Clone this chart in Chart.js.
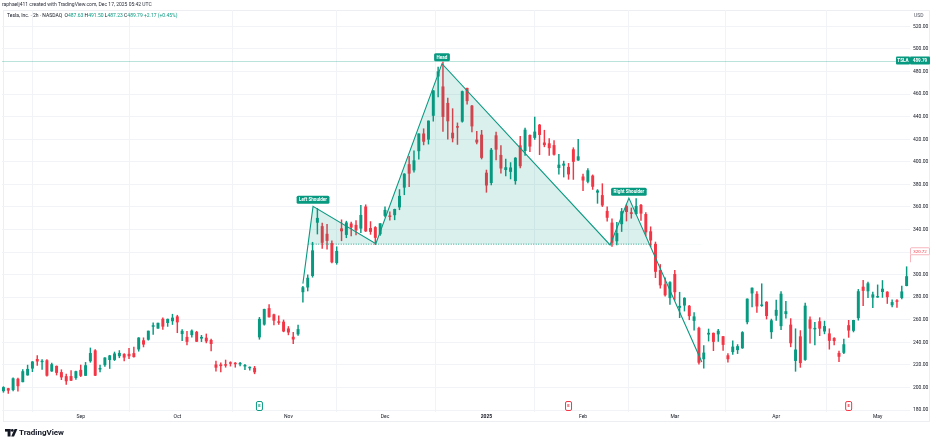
<!DOCTYPE html>
<html>
<head>
<meta charset="utf-8">
<script src="https://cdn.jsdelivr.net/npm/chart.js@4.4.1/dist/chart.umd.min.js"></script>
<style>
  html, body { margin: 0; padding: 0; background: #fff; overflow: hidden; }
  canvas { display: block; }
</style>
</head>
<body>
<canvas id="chart" width="936" height="445"></canvas>
<script>
// Daily candles, first candle = Aug 9 2024, last = May 9 2025
const opens = [
  197, 199, 198, 207.4, 205, 211, 217, 224.9, 222.7, 223.8, 214.5, 218.8, 213.3, 209.7, 209.8, 208.6,
  215.3, 210.6, 223.5, 232.6, 216.2, 220, 224.6, 224.7, 228, 229.3, 229.5, 230.1, 234, 241.5, 242.6, 254.1, 252.5, 260.6, 257.4, 259,
  262.7, 247.6, 244.5, 246.7, 249, 243.6, 243.8, 241.8, 220.1, 220.1, 220, 221.4, 221.6, 220.7, 218.9, 217.3, 217.1, 244.7, 256, 270, 264.5, 258, 258,
  252, 244.6, 247.3, 284.7, 288.9, 299.1, 346.3, 342.7, 335.9, 327.7, 310.6, 340.7, 335.5, 345, 343.8, 341.1, 360.1, 341, 341.8, 336.1,
  352.4, 351.8, 353, 359.9, 377.4, 397.6, 392.7, 409.7, 424.8, 420, 441.1, 475.9, 466.5, 451.9, 425.5, 431, 435.9, 465.2, 449.5, 419.4, 423.8,
  390.1, 381.5, 423.2, 405.8, 393, 391.4, 383.2, 414.3, 409.9, 423.5, 421.5, 432.6, 416.8, 416.1, 414.5, 394.8, 396.9, 395.2, 410.8, 401.5,
  386.7, 382.6, 387.5, 373, 370.2, 356.2, 345.8, 329.9, 345, 360.6, 355, 354, 361.5, 353.4, 338.1, 327, 303.7, 291.2, 279.5,
  300.3, 270.9, 272.9, 272.1, 259.3, 252.5, 225.3, 247.2, 248.1, 247.3, 245.1, 228.2, 231.6, 233.4, 235, 258.1, 283.6, 282.7, 272.5, 275.6, 249.3,
  263.8, 254.6, 265.3, 255.4, 223.8, 245, 224.7, 260, 251.8, 258.4, 249.9, 247.6, 243.5, 230.3, 231, 254.9, 250.5, 261.7, 289, 285.5, 279.9,
  280, 284.9, 284.6, 273.1, 276.9, 279.6, 290.2
];
const highs = [
  200.7, 199.3, 208.5, 208.4, 215.9, 219.8, 223, 228.2, 224.7, 224.8, 221.5, 219.1, 215.7, 211.8, 214.9, 214.6,
  219.9, 222.2, 235, 233.6, 219.9, 226.4, 228.5, 231.4, 232.7, 230, 234.6, 235.7, 244.2, 244, 250, 257.2, 257.1, 261.8, 260.7, 264.9,
  264, 251.2, 249.8, 251, 249.8, 246.2, 247.4, 242.8, 223.3, 221.9, 224.3, 222.8, 222.1, 222.3, 220.5, 218.2, 218.7, 262.1, 269.5, 273.5, 265, 263.4, 259.8,
  254, 248.9, 255.3, 289.6, 299.8, 328.7, 358.6, 345.8, 344.6, 330, 324.7, 348.6, 347.4, 346.6, 348, 361.5, 361.9, 347, 342.6, 345.2,
  360, 355.7, 358.1, 375.4, 389.5, 404.8, 409.7, 424.9, 429.3, 436.3, 463.2, 484, 488.5, 456.4, 447.1, 434.5, 462.8, 465.3, 450, 427, 427.9,
  392.7, 411.9, 426.4, 414.3, 402.5, 399.3, 403.8, 422.6, 429.8, 424, 439.7, 433.2, 428, 420.7, 418.9, 406.7, 400.6, 398.6, 412.5, 420,
  389.2, 394, 388.4, 375.4, 380.6, 360, 349.4, 346.4, 358.7, 362, 359.1, 367.3, 362.3, 355, 342.4, 328.9, 309, 297.2, 293.9,
  303.9, 284.4, 279.6, 272.7, 266.3, 253.4, 237.1, 251.8, 248.3, 251.6, 245.4, 230.1, 241.4, 238, 249.5, 278.6, 288.2, 284.9, 291.9, 276.1, 260.6,
  277.5, 285, 276.3, 261, 252, 250.4, 274.7, 262.5, 257.7, 261.8, 258.8, 252, 244.3, 232.2, 242.8, 259.5, 259.6, 286.9, 294.9, 293.3, 284.5,
  290.9, 294.8, 284.9, 277.7, 277.9, 289.8, 307
];
const lows = [
  195.7, 194.7, 197, 196.6, 204.8, 210.8, 214, 219.6, 216, 210, 214.2, 211, 206.9, 202.6, 206, 207,
  209.6, 210.6, 222.3, 210.5, 213.7, 218.6, 216.8, 223.8, 226.3, 223.5, 225.6, 226.9, 232.1, 235.9, 241.9, 247.1, 252.3, 251.5, 254.1, 255.8,
  248.5, 241.5, 237.8, 244.6, 240.7, 240.6, 239.5, 232.3, 214.4, 213.7, 217.9, 218.9, 217.9, 219, 215.7, 215.3, 212.1, 242.7, 255.3, 262.2, 255.5, 255.8, 249.3,
  246.6, 238.9, 246.2, 275.6, 285.5, 297.7, 336, 323.3, 322.5, 310.4, 309.2, 330, 332.7, 334.3, 335.3, 337.2, 338.2, 335.7, 326.6, 334.7,
  351.2, 348.2, 348.6, 357.5, 370.8, 378, 390.9, 402.4, 415, 415.7, 436, 457.5, 427, 420, 417.6, 415.4, 435.1, 451, 426.5, 415.8, 402.5,
  373, 379.5, 401.7, 390, 387.4, 384.8, 380.1, 394.5, 405.7, 409.1, 419.8, 406.3, 413.3, 405.6, 405.8, 389, 386.5, 384.5, 384.4, 401.3,
  374.4, 381.4, 375.5, 363.2, 360.3, 347.3, 325.1, 326.3, 338.2, 347.5, 350, 353.7, 348, 334.4, 324.7, 297.3, 288, 280.9, 273.6,
  277.3, 261.8, 267.7, 260, 250.7, 220.7, 217, 241.1, 232.6, 240.7, 232.8, 222.3, 229.2, 230, 234.6, 256.3, 271.3, 266.5, 271.8, 260.6, 243.4,
  259.3, 251.3, 261.4, 236, 214.3, 217.8, 223.9, 239.3, 237.6, 245.9, 247.5, 233.9, 237.7, 222.8, 229.9, 244.4, 249.2, 259.6, 272.4, 279.5, 270.8,
  279.8, 279.8, 274.4, 271.4, 271, 278.5, 290
];
const closes = [
  200, 197.5, 207.8, 201.4, 214.1, 216.1, 222.7, 223.3, 223.3, 210.7, 220.3, 213.2, 209.2, 205.8, 206.3, 214.1,
  210.6, 219.4, 230.2, 210.7, 216.3, 226.2, 228.1, 229.8, 230.3, 226.8, 227.9, 227.2, 243.9, 238.3, 250, 254.3, 257, 254.2, 260.5, 261.6,
  258, 249.9, 240.7, 250.1, 240.8, 244.5, 241.1, 238.8, 217.8, 219.2, 219.6, 221.3, 220.9, 220.7, 218.9, 218, 213.7, 260.5, 269.2, 262.5, 259.5, 257.6, 249.9,
  249, 242.8, 251.4, 288.5, 296.9, 321.2, 350, 328.5, 330.2, 311.2, 320.7, 338.7, 346, 342, 339.6, 352.6, 338.6, 338.2, 332.9, 345.2,
  357.1, 351.4, 357.9, 369.5, 389.2, 389.8, 401, 424.8, 418.1, 436.2, 463, 479.9, 440.1, 436.2, 421.1, 430.6, 462.3, 454.1, 431.7, 417.4, 403.8,
  379.3, 410.4, 411.1, 394.4, 394.9, 394.7, 403.3, 396.4, 428.2, 413.8, 426.5, 424.1, 415.1, 412.4, 406.6, 397.2, 398.1, 389.1, 400.3, 404.6,
  383.7, 392.2, 378.2, 374.3, 361.6, 350.7, 328.5, 336.5, 355.9, 355.8, 354.1, 360.6, 354.4, 337.8, 330.5, 302.8, 290.8, 282, 293,
  284.7, 272, 279.1, 263.5, 262.7, 222.2, 230.6, 248.1, 240.7, 250, 238, 225.3, 235.9, 236.3, 248.7, 278.4, 288.1, 272.1, 273.1, 263.6, 259.2,
  268.5, 282.8, 267.3, 239.4, 233.3, 221.9, 272.2, 252.4, 252.3, 252.4, 254.1, 241.6, 241.4, 227.5, 238, 250.7, 259.5, 285, 285.9, 292, 282.2,
  280.5, 287.2, 280.3, 275.4, 276.2, 284.8, 298.3
];

// time axis: candle index of the first session of each month
const monthIdx = [16, 36, 59, 79, 100, 120, 139, 160, 181];
const monthLabels = ['Sep', 'Oct', 'Nov', 'Dec', '2025', 'Feb', 'Mar', 'Apr', 'May'];
const priceTicks = [180, 200, 220, 240, 260, 280, 300, 320, 340, 360, 380, 400, 420, 440, 460, 480, 500, 520];

// head & shoulders drawing (start, left shoulder, neck, head, neck, right shoulder, end)
const patternIdx = [62, 64.1, 77.1, 90.8, 125.6, 129.5, 144.6];
const patternPrice = [292, 360.5, 327.5, 487, 326.3, 367.8, 222.5];
const patternLabels = ['', 'Left Shoulder', '', 'Head', '', 'Right Shoulder', ''];
const necklineIdx = [63.1, 134.3];
const necklinePrice = 327;

const lastPrice = 489.79;
const alertPrice = 320.72;
const earningsIdx = [53, 117, 175];
const earningsBeat = [true, false, false];

const UP = '#089981';
const DOWN = '#f23645';
const TEXT = '#131722';
const FONT = 'Roboto, "Liberation Sans", sans-serif';

const wicks = closes.map((c, i) => ({ x: i, y: [lows[i], highs[i]] }));
const bodies = closes.map((c, i) => ({ x: i, y: [Math.min(opens[i], c), Math.max(opens[i], c)] }));
const candleColor = ctx => (closes[ctx.dataIndex] >= opens[ctx.dataIndex] ? UP : DOWN);

function box(ctx, x, y, w, h, r) {
  ctx.beginPath();
  if (ctx.roundRect) ctx.roundRect(x, y, w, h, r);
  else ctx.rect(x, y, w, h);
}

const overlay = {
  id: 'overlay',
  beforeDraw(chart) {
    const ctx = chart.ctx;
    ctx.save();
    ctx.fillStyle = '#fff';
    ctx.fillRect(0, 0, chart.width, chart.height);
    // widget frame
    ctx.strokeStyle = '#eceef2';
    ctx.lineWidth = 1;
    ctx.strokeRect(3.5, 10.5, 926, 411);
    ctx.restore();
  },
  beforeDatasetsDraw(chart) {
    const { ctx, chartArea, scales: { y } } = chart;
    const py = Math.round(y.getPixelForValue(lastPrice)) + 0.5;
    ctx.save();
    ctx.strokeStyle = 'rgba(8,153,129,0.28)';
    ctx.lineWidth = 1;
    ctx.beginPath();
    ctx.moveTo(chartArea.left, py);
    ctx.lineTo(chartArea.right, py);
    ctx.stroke();
    ctx.restore();
  },
  afterDatasetsDraw(chart) {
    const ctx = chart.ctx;
    const meta = chart.getDatasetMeta(0);
    ctx.save();
    ctx.font = `bold 4.6px ${FONT}`;
    ctx.textAlign = 'center';
    ctx.textBaseline = 'middle';
    patternLabels.forEach((label, i) => {
      if (!label) return;
      const pt = meta.data[i];
      const w = ctx.measureText(label).width + 5;
      const h = 8;
      const bx = pt.x - w / 2;
      const by = pt.y - 2.5 - h;
      ctx.fillStyle = UP;
      box(ctx, bx, by, w, h, 1.5);
      ctx.fill();
      ctx.fillStyle = '#fff';
      ctx.fillText(label, pt.x, by + h / 2 + 0.3);
    });
    ctx.restore();
  },
  afterDraw(chart) {
    const { ctx, scales: { x, y } } = chart;
    ctx.save();

    // header
    ctx.textBaseline = 'middle';
    ctx.textAlign = 'left';
    ctx.font = `5px ${FONT}`;
    ctx.fillStyle = '#2a2e39';
    ctx.fillText('raphaelj411 created with TradingView.com, Dec 17, 2025 05:42 UTC', 2, 5);
    let tx = 7;
    const parts = [
      ['Tesla, Inc. \u00b7 2h \u00b7 NASDAQ  ', TEXT],
      ['O', TEXT], ['487.63 ', UP], ['H', TEXT], ['491.50 ', UP],
      ['L', TEXT], ['487.23 ', UP], ['C', TEXT], ['489.79 ', UP], ['+2.17 (+0.45%)', UP]
    ];
    parts.forEach(([s, c]) => {
      ctx.fillStyle = c;
      ctx.fillText(s, tx, 16);
      tx += ctx.measureText(s).width;
    });

    // price axis caption
    ctx.fillStyle = '#50535e';
    ctx.fillText('USD', 914, 16);

    // last price tags
    const py = y.getPixelForValue(lastPrice);
    ctx.font = `bold 4.6px ${FONT}`;
    ctx.fillStyle = UP;
    box(ctx, 896, py - 4, 14, 8, 1);
    ctx.fill();
    box(ctx, 910, py - 4, 20, 8, 1);
    ctx.fill();
    ctx.fillStyle = '#fff';
    ctx.textAlign = 'center';
    ctx.fillText('TSLA', 903, py + 0.3);
    ctx.fillText(lastPrice.toFixed(2), 920, py + 0.3);

    // alert style tag
    const ay = y.getPixelForValue(alertPrice);
    ctx.strokeStyle = '#f5a3ad';
    ctx.lineWidth = 0.8;
    ctx.fillStyle = '#fff';
    box(ctx, 910.5, ay - 3.5, 19, 7, 1);
    ctx.fill();
    ctx.stroke();
    ctx.beginPath();
    ctx.moveTo(910.5, ay + 3.5);
    ctx.lineTo(910.5, ay + 11);
    ctx.stroke();
    ctx.fillStyle = '#f23645';
    ctx.font = `4.4px ${FONT}`;
    ctx.fillText(alertPrice.toFixed(2), 920, ay + 0.3);

    // earnings markers on the time axis
    ctx.font = `bold 4.2px ${FONT}`;
    earningsIdx.forEach((v, i) => {
      const ex = x.getPixelForValue(v);
      const c = earningsBeat[i] ? UP : DOWN;
      ctx.fillStyle = '#fff';
      ctx.strokeStyle = c;
      ctx.lineWidth = 1;
      box(ctx, ex - 3, 401.5, 6, 9, 1.5);
      ctx.fill();
      ctx.stroke();
      ctx.fillStyle = c;
      ctx.fillText('E', ex, 406.2);
    });

    // TradingView logo
    ctx.fillStyle = '#131722';
    ctx.fillRect(5, 429, 5.5, 2.6);
    ctx.fillRect(7.6, 429, 2.9, 7.5);
    ctx.beginPath();
    ctx.arc(12.3, 430.4, 1.4, 0, Math.PI * 2);
    ctx.fill();
    ctx.beginPath();
    ctx.moveTo(11.2, 436.5);
    ctx.lineTo(14.6, 429);
    ctx.lineTo(17.4, 429);
    ctx.lineTo(14, 436.5);
    ctx.closePath();
    ctx.fill();
    ctx.textAlign = 'left';
    ctx.font = `bold 8px ${FONT}`;
    ctx.fillText('TradingView', 19, 433);

    ctx.restore();
  }
};

new Chart(document.getElementById('chart'), {
  type: 'bar',
  data: {
    datasets: [
      {
        type: 'line',
        label: 'Head and Shoulders',
        data: patternIdx.map((v, i) => ({ x: v, y: patternPrice[i] })),
        borderColor: UP,
        borderWidth: 1.1,
        pointRadius: 0,
        tension: 0,
        fill: { target: { value: necklinePrice }, above: 'rgba(8,153,129,0.15)', below: 'rgba(0,0,0,0)' },
        order: 0
      },
      {
        type: 'line',
        label: 'Neckline',
        data: necklineIdx.map(v => ({ x: v, y: necklinePrice })),
        borderColor: UP,
        borderWidth: 0.9,
        borderDash: [1, 1.5],
        pointRadius: 0,
        fill: false,
        order: 0
      },
      {
        label: 'Bodies',
        data: bodies,
        backgroundColor: candleColor,
        borderWidth: 0,
        barThickness: 2.3,
        minBarLength: 0.8,
        grouped: false,
        order: 1
      },
      {
        label: 'Wicks',
        data: wicks,
        backgroundColor: candleColor,
        borderWidth: 0,
        barThickness: 0.8,
        grouped: false,
        order: 2
      }
    ]
  },
  options: {
    responsive: false,
    animation: false,
    events: [],
    layout: { padding: { left: 2, right: 0, top: 10, bottom: 23 } },
    plugins: { legend: { display: false }, tooltip: { enabled: false } },
    scales: {
      x: {
        type: 'linear',
        min: -0.3,
        max: 187.7,
        offset: false,
        afterBuildTicks: s => { s.ticks = monthIdx.map(v => ({ value: v })); },
        afterFit: s => { s.height = 10; },
        ticks: {
          autoSkip: false,
          maxRotation: 0,
          padding: 2,
          color: TEXT,
          font: ctx => ({ family: FONT, size: 5, weight: ctx.tick && ctx.tick.value === 100 ? 'bold' : 'normal' }),
          callback: v => monthLabels[monthIdx.indexOf(v)]
        },
        grid: { color: '#f1f3f7', drawTicks: false },
        border: { display: false }
      },
      y: {
        type: 'linear',
        position: 'right',
        min: 178.23,
        max: 534.57,
        afterBuildTicks: s => { s.ticks = priceTicks.map(v => ({ value: v })); },
        afterFit: s => { s.width = 26; },
        ticks: {
          padding: 3,
          color: TEXT,
          font: { family: FONT, size: 5 },
          callback: v => v.toFixed(2)
        },
        grid: { color: '#f1f3f7', drawTicks: false },
        border: { display: false }
      }
    }
  },
  plugins: [overlay]
});
</script>
</body>
</html>
